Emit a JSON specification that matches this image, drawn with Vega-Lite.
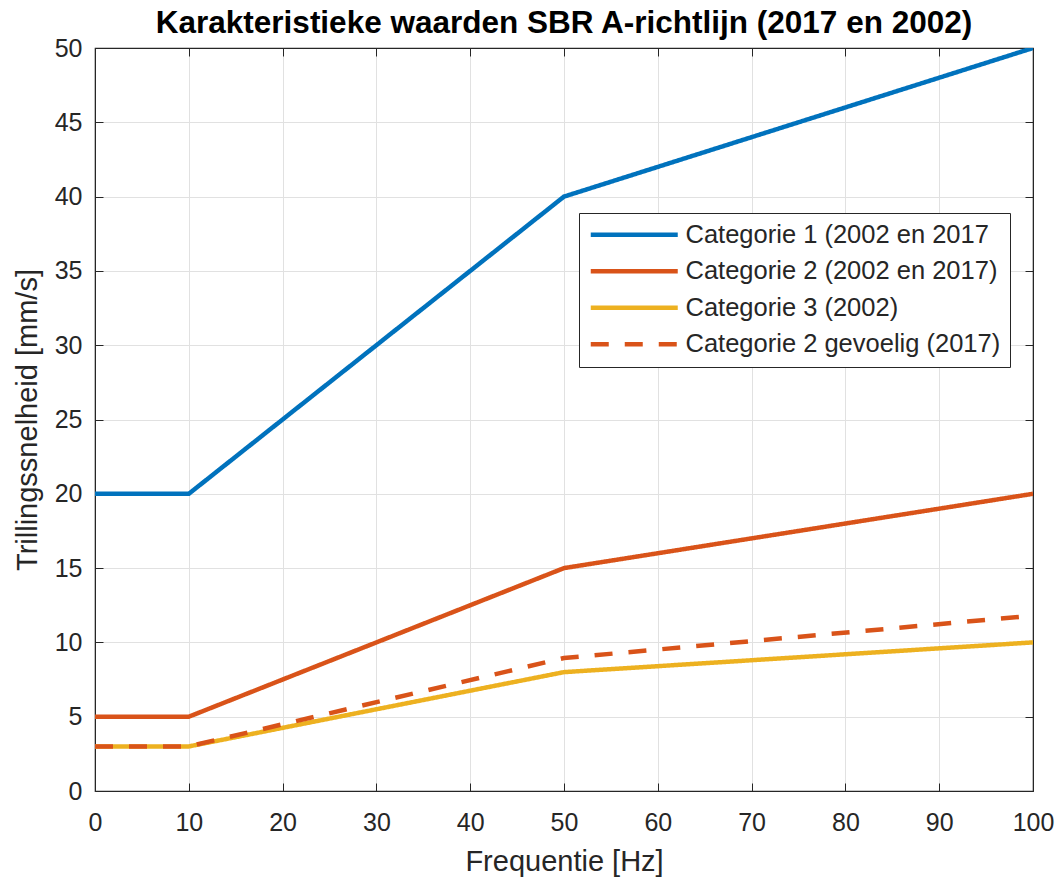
{
  "$schema": "https://vega.github.io/schema/vega-lite/v6.json",
  "autosize": {"type": "none"},
  "width": 938,
  "height": 743,
  "padding": {"left": 95, "top": 48, "right": 27, "bottom": 90},
  "background": "white",
  "title": {
    "text": "Karakteristieke waarden SBR A-richtlijn (2017 en 2002)",
    "font": "Liberation Sans",
    "fontSize": 31.5,
    "fontWeight": "bold",
    "color": "#000000",
    "anchor": "middle",
    "offset": -3
  },
  "config": {
    "view": {"stroke": "#262626", "strokeWidth": 1.2},
    "axis": {
      "labelFont": "Liberation Sans",
      "titleFont": "Liberation Sans",
      "labelFontSize": 25,
      "titleFontSize": 29,
      "labelColor": "#262626",
      "titleColor": "#262626",
      "titleFontWeight": "normal",
      "domainColor": "#262626",
      "tickColor": "#262626",
      "gridColor": "#e1e1e1",
      "gridWidth": 1,
      "labelFlush": false
    }
  },
  "data": {
    "values": [
      {"serie": "Categorie 1 (2002 en 2017", "f": 0, "v": 20},
      {"serie": "Categorie 1 (2002 en 2017", "f": 10, "v": 20},
      {"serie": "Categorie 1 (2002 en 2017", "f": 50, "v": 40},
      {"serie": "Categorie 1 (2002 en 2017", "f": 100, "v": 50},
      {"serie": "Categorie 2 (2002 en 2017)", "f": 0, "v": 5},
      {"serie": "Categorie 2 (2002 en 2017)", "f": 10, "v": 5},
      {"serie": "Categorie 2 (2002 en 2017)", "f": 50, "v": 15},
      {"serie": "Categorie 2 (2002 en 2017)", "f": 100, "v": 20},
      {"serie": "Categorie 3 (2002)", "f": 0, "v": 3},
      {"serie": "Categorie 3 (2002)", "f": 10, "v": 3},
      {"serie": "Categorie 3 (2002)", "f": 50, "v": 8},
      {"serie": "Categorie 3 (2002)", "f": 100, "v": 10},
      {"serie": "Categorie 2 gevoelig (2017)", "f": 0, "v": 3},
      {"serie": "Categorie 2 gevoelig (2017)", "f": 10, "v": 3},
      {"serie": "Categorie 2 gevoelig (2017)", "f": 50, "v": 8.95},
      {"serie": "Categorie 2 gevoelig (2017)", "f": 100, "v": 11.8}
    ]
  },
  "layer": [
    {
      "mark": {"type": "line", "strokeWidth": 4.5, "clip": true},
      "encoding": {
        "x": {
          "field": "f", "type": "quantitative",
          "scale": {"domain": [0, 100], "nice": false, "zero": false},
          "axis": {
            "title": "Frequentie [Hz]",
            "values": [0, 10, 20, 30, 40, 50, 60, 70, 80, 90, 100],
            "tickSize": -8,
            "labelPadding": 27,
            "titlePadding": 12,
            "grid": true
          }
        },
        "y": {
          "field": "v", "type": "quantitative",
          "scale": {"domain": [0, 50], "nice": false},
          "axis": {
            "title": "Trillingssnelheid [mm/s]",
            "values": [0, 5, 10, 15, 20, 25, 30, 35, 40, 45, 50],
            "tickSize": -8,
            "labelPadding": 21,
            "titlePadding": 12,
            "grid": true
          }
        },
        "color": {
          "field": "serie", "type": "nominal",
          "scale": {
            "domain": ["Categorie 1 (2002 en 2017", "Categorie 2 (2002 en 2017)", "Categorie 3 (2002)", "Categorie 2 gevoelig (2017)"],
            "range": ["#0072BD", "#D95319", "#EDB120", "#D95319"]
          },
          "legend": {
            "title": null,
            "orient": "none",
            "legendX": 484,
            "legendY": 165,
            "fillColor": "white",
            "strokeColor": "#262626",
            "padding": 9,
            "labelFont": "Liberation Sans",
            "labelFontSize": 25.5,
            "labelColor": "#262626",
            "labelOffset": 72,
            "symbolType": "M-1,0H7.7",
            "symbolSize": 400,
            "symbolStrokeWidth": 4.5,
            "symbolFillColor": "transparent",
            "rowPadding": 9.5,
            "labelLimit": 500
          }
        },
        "strokeDash": {
          "field": "serie", "type": "nominal",
          "scale": {
            "domain": ["Categorie 1 (2002 en 2017", "Categorie 2 (2002 en 2017)", "Categorie 3 (2002)", "Categorie 2 gevoelig (2017)"],
            "range": [[1, 0], [1, 0], [1, 0], [18, 16]]
          },
          "legend": null
        },
        "order": {"field": "f"}
      }
    },
    {
      "mark": {"type": "rule", "opacity": 0},
      "encoding": {
        "x": {
          "field": "f", "type": "quantitative",
          "axis": {
            "orient": "top", "title": null, "labels": false, "grid": false,
            "values": [0, 10, 20, 30, 40, 50, 60, 70, 80, 90, 100],
            "tickSize": -8
          }
        },
        "y": {
          "field": "v", "type": "quantitative",
          "axis": {
            "orient": "right", "title": null, "labels": false, "grid": false,
            "values": [0, 5, 10, 15, 20, 25, 30, 35, 40, 45, 50],
            "tickSize": -8
          }
        }
      }
    }
  ],
  "resolve": {"axis": {"x": "independent", "y": "independent"}}
}
